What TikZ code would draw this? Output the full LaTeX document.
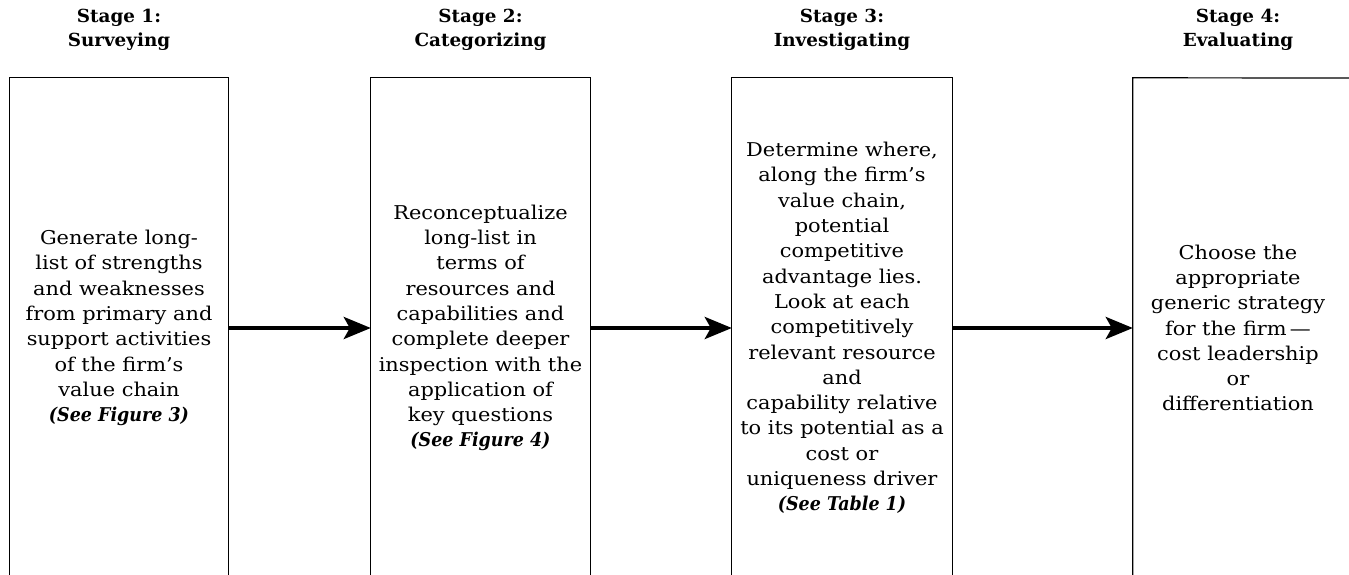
\documentclass[tikz,border=0pt]{standalone}
\usepackage{fontspec}
\setmainfont[FakeStretch=1.1]{DejaVu Serif}
\newfontfamily\headfont[FakeStretch=1.02]{DejaVu Serif}
\newfontfamily\seefont[FakeStretch=0.92]{DejaVu Serif}
\usetikzlibrary{arrows.meta}
\newcommand{\seeref}[1]{{\seefont\bfseries\itshape #1}}
\begin{document}
\begin{tikzpicture}[x=1pt,y=-1pt,
  frame/.style={line width=1.2pt},
  boxarea/.style={draw=none, minimum height=500, inner sep=0},
  body/.style={align=center, font=\fontsize{19}{25.3}\selectfont, inner sep=0},
  head/.style={align=center, font=\fontsize{18}{24}\selectfont\headfont\bfseries, inner sep=0},
  flow/.style={line width=4pt, -{Stealth[length=27pt,width=22pt,inset=6pt]}}]
\useasboundingbox (0,0) rectangle (1349,575);

\node[boxarea, minimum width=218] (b1) at (119,328) {};
\node[boxarea, minimum width=219] (b2) at (480.5,328) {};
\node[boxarea, minimum width=220] (b3) at (842,328) {};
\node[boxarea, minimum width=210] (b4) at (1238,328) {};
\coordinate (edge) at (1349,78);

\draw[frame] (b1.south west) -- (b1.north west) -- (b1.north east) -- (b1.south east);
\draw[frame] (b2.south west) -- (b2.north west) -- (b2.north east) -- (b2.south east);
\draw[frame] (b3.south west) -- (b3.north west) -- (b3.north east) -- (b3.south east);
\draw[frame] (b4.south west) -- (b4.north west) -- (edge);

\node[head] (h1) at (119,30) {Stage 1:\\Surveying};
\node[head] (h2) at (480.5,30) {Stage 2:\\Categorizing};
\node[head] (h3) at (842,30) {Stage 3:\\Investigating};
\node[head] (h4) at (1238,30) {Stage 4:\\Evaluating};

\node[body] (t1) at (b1.center) {Generate long-\\list of strengths\\and weaknesses\\from primary and\\support activities\\of the firm's\\value chain\\\seeref{(See Figure 3)}};
\node[body] (t2) at (b2.center) {Reconceptualize\\long-list in\\terms of\\resources and\\capabilities and\\complete deeper\\inspection with the\\application of\\key questions\\\seeref{(See Figure 4)}};
\node[body] (t3) at (b3.center) {Determine where,\\along the firm's\\value chain,\\potential\\competitive\\advantage lies.\\Look at each\\competitively\\relevant resource\\and\\capability relative\\to its potential as a\\cost or\\uniqueness driver\\\seeref{(See Table 1)}};
\node[body] (t4) at (b4.center) {Choose the\\appropriate\\generic strategy\\for the firm\,—\\cost leadership\\or\\differentiation};

\draw[flow] (b1.east) -- (b2.west);
\draw[flow] (b2.east) -- (b3.west);
\draw[flow] (b3.east) -- (b4.west);
\end{tikzpicture}
\end{document}
